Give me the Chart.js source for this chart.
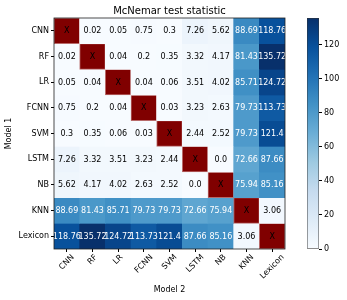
<!DOCTYPE html>
<html>
<head>
<meta charset="utf-8">
<script src="https://cdn.jsdelivr.net/npm/chart.js@4/dist/chart.umd.min.js"></script>
<style>
html, body { margin: 0; padding: 0; background: #fff; }
#wrap { position: relative; width: 347px; height: 300px; }
#heat { position: absolute; left: 0; top: 0; }
#cbar { position: absolute; left: 300px; top: 0; }
</style>
</head>
<body>
<div id="wrap">
  <canvas id="heat" width="347" height="300"></canvas>
  <canvas id="cbar" width="47" height="300"></canvas>
</div>
<script>
// Pairwise McNemar statistics, row = Model 1, column = Model 2 (null = diagonal)
const models = ['CNN', 'RF', 'LR', 'FCNN', 'SVM', 'LSTM', 'NB', 'KNN', 'Lexicon'];
const rowCNN     = [null, 0.02, 0.05, 0.75, 0.3, 7.26, 5.62, 88.69, 118.76];
const rowRF      = [0.02, null, 0.04, 0.2, 0.35, 3.32, 4.17, 81.43, 135.72];
const rowLR      = [0.05, 0.04, null, 0.04, 0.06, 3.51, 4.02, 85.71, 124.72];
const rowFCNN    = [0.75, 0.2, 0.04, null, 0.03, 3.23, 2.63, 79.73, 113.73];
const rowSVM     = [0.3, 0.35, 0.06, 0.03, null, 2.44, 2.52, 79.73, 121.4];
const rowLSTM    = [7.26, 3.32, 3.51, 3.23, 2.44, null, 0.0, 72.66, 87.66];
const rowNB      = [5.62, 4.17, 4.02, 2.63, 2.52, 0.0, null, 75.94, 85.16];
const rowKNN     = [88.69, 81.43, 85.71, 79.73, 79.73, 72.66, 75.94, null, 3.06];
const rowLexicon = [118.76, 135.72, 124.72, 113.73, 121.4, 87.66, 85.16, 3.06, null];
const matrix = [rowCNN, rowRF, rowLR, rowFCNN, rowSVM, rowLSTM, rowNB, rowKNN, rowLexicon];
const colorbarTicks = [0, 20, 40, 60, 80, 100, 120];

const vmax = Math.max(...matrix.flat().filter(v => v !== null));
const FONT = '"DejaVu Sans", sans-serif';
const DIAG = '#800000';
const DIAG_EDGE = '#b86a6a';
// matplotlib "Blues"
const BLUES = ['#f7fbff', '#deebf7', '#c6dbef', '#9ecae1', '#6baed6', '#4292c6', '#2171b5', '#08519c', '#08306b'];

function hexRgb(h) {
    return [1, 3, 5].map(i => parseInt(h.slice(i, i + 2), 16));
}

function blues(t) {
    t = Math.min(1, Math.max(0, t));
    const pos = t * (BLUES.length - 1);
    const i = Math.min(BLUES.length - 2, Math.floor(pos));
    const f = pos - i;
    const a = hexRgb(BLUES[i]), b = hexRgb(BLUES[i + 1]);
    const c = a.map((v, k) => Math.round(v + (b[k] - v) * f));
    return `rgb(${c[0]},${c[1]},${c[2]})`;
}

function fmt(v) {
    return Number.isInteger(v) ? v.toFixed(1) : String(v);
}

// numbers in cells, frame, and rotated x labels centred under their ticks
const heatOverlay = {
    id: 'heatOverlay',
    afterDatasetsDraw(chart) {
        const { ctx, chartArea, scales: { x, y } } = chart;
        ctx.save();
        ctx.font = '8px ' + FONT;
        ctx.textAlign = 'center';
        ctx.textBaseline = 'middle';
        matrix.forEach((row, r) => row.forEach((v, c) => {
            const px = x.getPixelForValue(c);
            const py = y.getPixelForValue(r + 0.5);
            ctx.fillStyle = v === null ? '#000' : (v > vmax / 2 ? '#fff' : '#000');
            ctx.fillText(v === null ? 'X' : fmt(v), px, py + 0.5);
        }));

        ctx.strokeStyle = '#222';
        ctx.lineWidth = 0.8;
        ctx.strokeRect(chartArea.left, chartArea.top, chartArea.right - chartArea.left, chartArea.bottom - chartArea.top);

        ctx.fillStyle = '#000';
        ctx.textAlign = 'right';
        models.forEach((m, i) => {
            const w = ctx.measureText(m).width;
            const ax = x.getPixelForTick(i) + w * 0.354;
            const ay = x.top + 7;
            ctx.save();
            ctx.translate(ax, ay);
            ctx.rotate(-Math.PI / 4);
            ctx.fillText(m, 0, 0);
            ctx.restore();
        });
        ctx.restore();
    }
};

const datasets = matrix.map((row, r) => ({
    label: models[r],
    data: row.map(() => [r, r + 1]),
    backgroundColor: row.map(v => v === null ? DIAG : blues(v / vmax)),
    borderColor: row.map(v => v === null ? DIAG_EDGE : 'rgba(0,0,0,0)'),
    borderWidth: row.map(v => v === null ? 1 : 0),
    borderSkipped: false,
    grouped: false,
    barPercentage: 1,
    categoryPercentage: 1
}));

new Chart(document.getElementById('heat').getContext('2d'), {
    type: 'bar',
    data: { labels: models, datasets },
    plugins: [heatOverlay],
    options: {
        responsive: false,
        animation: false,
        layout: { padding: { left: 0, right: 62, top: 0, bottom: 0 } },
        plugins: {
            legend: { display: false },
            tooltip: { enabled: false },
            title: {
                display: true, text: 'McNemar test statistic', fullSize: false,
                color: '#000', font: { family: FONT, size: 10, weight: 'normal' },
                padding: { top: 5, bottom: 1 }
            }
        },
        scales: {
            x: {
                type: 'category',
                grid: { offset: false, drawOnChartArea: false, drawTicks: true, tickLength: 3, color: '#000' },
                border: { display: false },
                ticks: { color: 'rgba(0,0,0,0)', autoSkip: false, maxRotation: 0, minRotation: 0, font: { family: FONT, size: 8 } },
                title: { display: true, text: 'Model 2', color: '#000', font: { family: FONT, size: 8 }, padding: { top: 0, bottom: 5 } },
                afterFit: s => { s.height = 51; }
            },
            y: {
                type: 'linear', min: 0, max: models.length, reverse: true,
                afterBuildTicks: s => { s.ticks = models.map((_, i) => ({ value: i + 0.5 })); },
                grid: { drawOnChartArea: false, drawTicks: true, tickLength: 3, color: '#000' },
                border: { display: false },
                ticks: {
                    autoSkip: false, padding: 2, color: '#000',
                    font: { family: FONT, size: 8 },
                    callback: v => models[Math.floor(v)]
                },
                title: { display: true, text: 'Model 1', color: '#000', font: { family: FONT, size: 8 }, padding: { top: 4, bottom: 0 } },
                afterFit: s => { s.width = 54; }
            }
        }
    }
});

// colour bar
function barGradient(context) {
    const area = context.chart.chartArea;
    if (!area) return BLUES[0];
    const g = context.chart.ctx.createLinearGradient(0, area.bottom, 0, area.top);
    BLUES.forEach((c, i) => g.addColorStop(i / (BLUES.length - 1), c));
    return g;
}

new Chart(document.getElementById('cbar').getContext('2d'), {
    type: 'bar',
    data: {
        labels: [''],
        datasets: [{
            data: [[0, vmax]],
            backgroundColor: barGradient,
            borderColor: '#333', borderWidth: 0.8, borderSkipped: false,
            barPercentage: 1, categoryPercentage: 1
        }]
    },
    options: {
        responsive: false,
        animation: false,
        layout: { padding: { left: 7, right: 0, top: 18, bottom: 51 } },
        plugins: { legend: { display: false }, tooltip: { enabled: false } },
        scales: {
            x: { display: false },
            y: {
                position: 'right', min: 0, max: vmax,
                afterBuildTicks: s => { s.ticks = colorbarTicks.map(v => ({ value: v })); },
                grid: { drawOnChartArea: false, drawTicks: true, tickLength: 3, color: '#000' },
                border: { display: false },
                ticks: { padding: 2, color: '#000', font: { family: FONT, size: 8 } },
                afterFit: s => { s.width = 28; }
            }
        }
    }
});
</script>
</body>
</html>
